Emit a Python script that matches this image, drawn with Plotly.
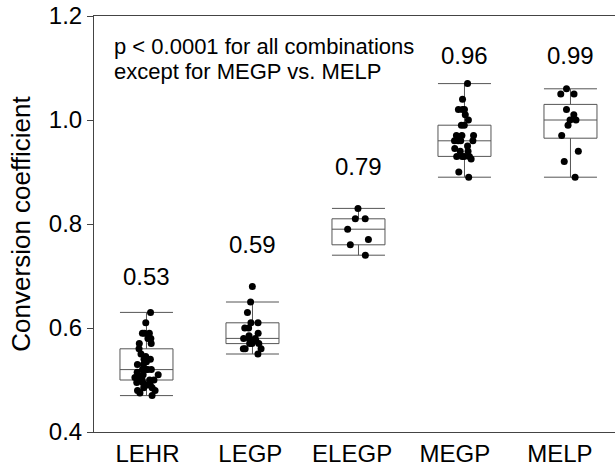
import plotly.graph_objects as go

categories = ["LEHR", "LEGP", "ELEGP", "MEGP", "MELP"]
mean_labels = ["0.53", "0.59", "0.79", "0.96", "0.99"]
label_y = [0.70, 0.76, 0.91, 1.125, 1.125]

lehr = [0.63, 0.61, 0.59, 0.59, 0.59, 0.58, 0.58, 0.57, 0.57, 0.56, 0.55, 0.545,
        0.54, 0.54, 0.535, 0.53, 0.53, 0.52, 0.52, 0.52, 0.52, 0.515, 0.51, 0.51,
        0.505, 0.505, 0.50, 0.50, 0.50, 0.495, 0.495, 0.49, 0.49, 0.485, 0.485,
        0.48, 0.48, 0.475, 0.47]
legp = [0.68, 0.65, 0.63, 0.61, 0.61, 0.60, 0.60, 0.59, 0.585, 0.58, 0.58, 0.58,
        0.575, 0.57, 0.57, 0.57, 0.56, 0.56, 0.56, 0.55]
elegp = [0.83, 0.81, 0.81, 0.79, 0.77, 0.76, 0.74]
megp = [1.07, 1.04, 1.02, 1.02, 1.02, 1.01, 1.00, 0.99, 0.99, 0.97, 0.97, 0.97,
        0.96, 0.96, 0.96, 0.96, 0.95, 0.945, 0.94, 0.94, 0.93, 0.93, 0.93, 0.93,
        0.925, 0.90, 0.89]
melp = [1.06, 1.05, 1.05, 1.02, 1.01, 1.00, 1.00, 0.99, 0.97, 0.94, 0.92, 0.89]
series = [lehr, legp, elegp, megp, melp]

q1 = [0.50, 0.57, 0.76, 0.93, 0.965]
median = [0.52, 0.58, 0.79, 0.96, 1.00]
q3 = [0.56, 0.61, 0.81, 0.99, 1.03]
lower = [0.47, 0.55, 0.74, 0.89, 0.89]
upper = [0.63, 0.65, 0.83, 1.07, 1.06]

tick_pos = [0.01, 0.98, 1.94, 2.91, 3.90]
y_ticks = [0.4, 0.6, 0.8, 1.0, 1.2]

FONT = "Liberation Sans, Arial, sans-serif"
BOXW = 0.5

fig = go.Figure()
for i, vals in enumerate(series):
    fig.add_trace(go.Box(
        x=[i], q1=[q1[i]], median=[median[i]], q3=[q3[i]],
        lowerfence=[lower[i]], upperfence=[upper[i]],
        width=BOXW, whiskerwidth=1, boxpoints=False,
        line=dict(color="#555555", width=1), fillcolor="rgba(255,255,255,0)",
        showlegend=False, hoverinfo="skip"))
    fig.add_trace(go.Box(
        x=[i] * len(vals), y=vals, width=BOXW, boxpoints="all", jitter=0.5,
        pointpos=0, line=dict(width=0, color="rgba(0,0,0,0)"),
        fillcolor="rgba(0,0,0,0)", marker=dict(color="black", size=7),
        showlegend=False))

for i, t in enumerate(mean_labels):
    fig.add_annotation(x=i, y=label_y[i], text=t, showarrow=False,
                       font=dict(size=24, color="black", family=FONT),
                       xanchor="center", yanchor="middle")

fig.add_annotation(xref="paper", x=0.0345, y=1.141, text="p < 0.0001 for all combinations",
                   showarrow=False, xanchor="left", yanchor="middle",
                   font=dict(size=22, color="black", family=FONT))
fig.add_annotation(xref="paper", x=0.0345, y=1.093, text="except for MEGP vs. MELP",
                   showarrow=False, xanchor="left", yanchor="middle",
                   font=dict(size=22, color="black", family=FONT))

fig.update_layout(
    width=615, height=466,
    margin=dict(l=94, r=0, t=16, b=34, autoexpand=False),
    paper_bgcolor="white", plot_bgcolor="white",
    boxmode="overlay", showlegend=False,
    font=dict(family=FONT, color="black"),
    xaxis=dict(range=[-0.495, 4.42], tickvals=tick_pos, ticktext=categories,
               showline=True, mirror=True, linecolor="#444444", linewidth=1,
               ticks="", showgrid=False, zeroline=False, automargin=False,
               tickfont=dict(size=24, color="black")),
    yaxis=dict(range=[0.4, 1.2], tickvals=y_ticks, tickformat=".1f",
               showline=True, linecolor="#444444", linewidth=1,
               ticks="outside", ticklen=6, tickcolor="#444444",
               showgrid=False, zeroline=False, automargin=False,
               tickfont=dict(size=24, color="black"),
               title=dict(text="Conversion coefficient", font=dict(size=26, color="black"),
                          standoff=10)),
)

fig.write_html("out.html", config={"displayModeBar": False},
               post_script="document.body.style.margin='0';document.body.style.overflow='hidden';")
